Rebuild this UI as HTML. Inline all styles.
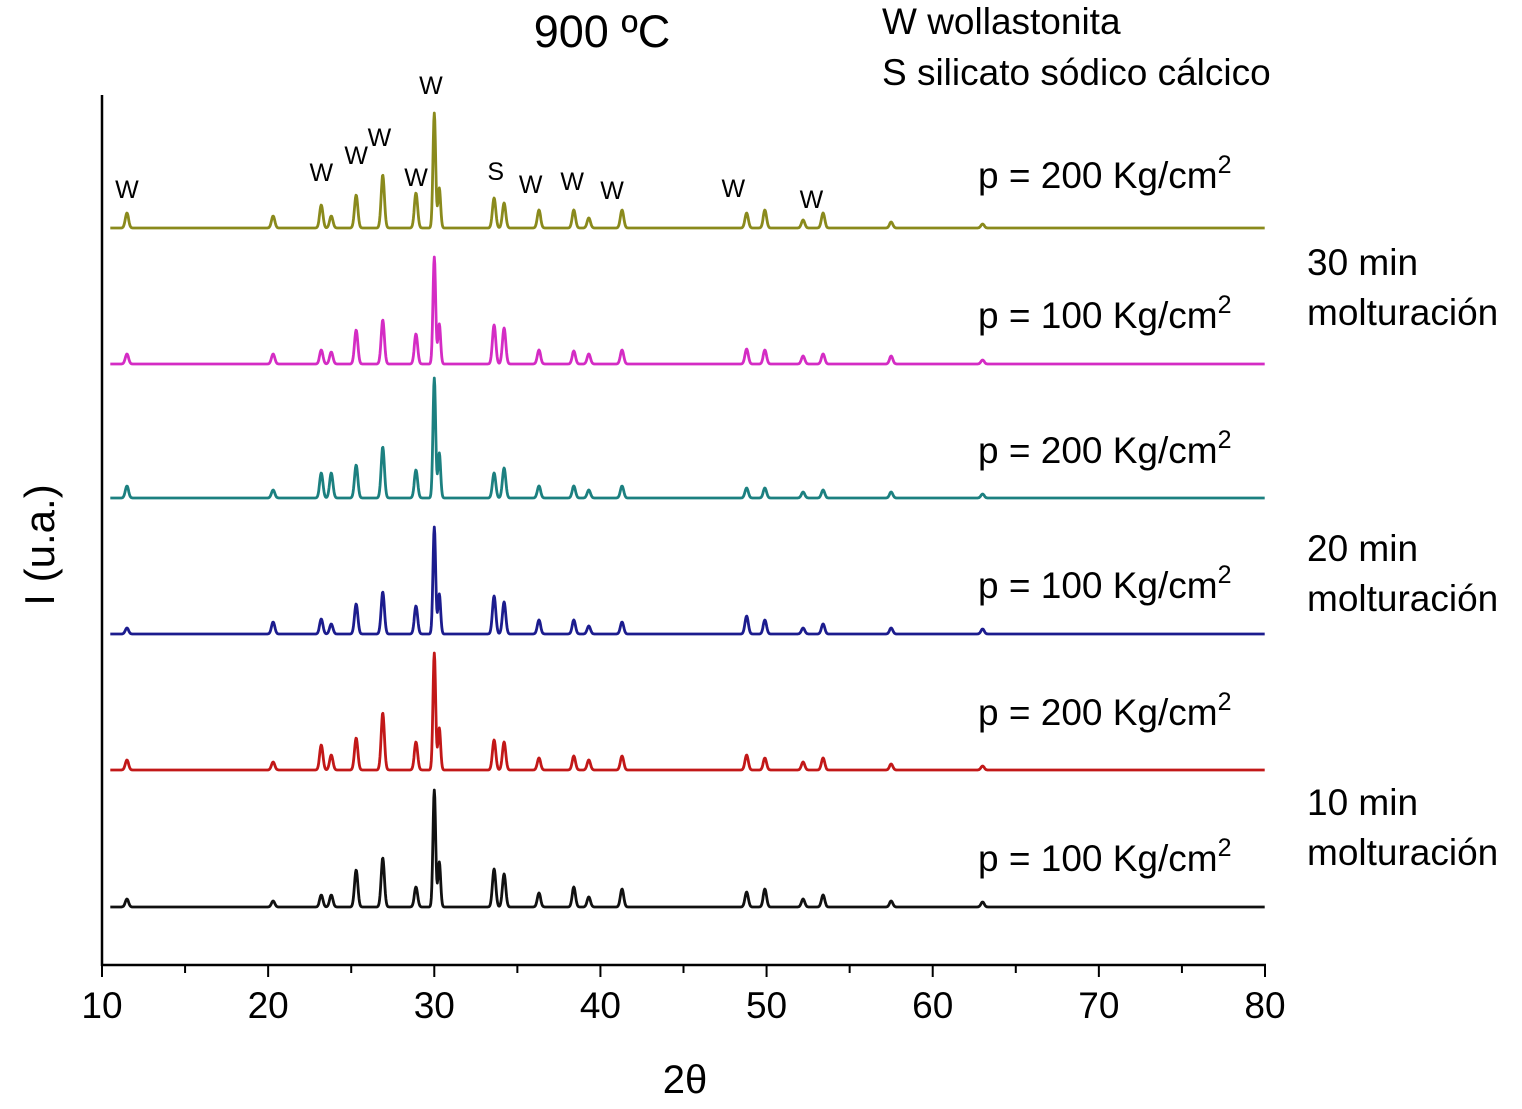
<!DOCTYPE html>
<html><head><meta charset="utf-8"><style>
body{margin:0;background:#fff;}
svg{display:block;font-family:"Liberation Sans",sans-serif;}
</style></head><body>
<svg id="chart" width="1522" height="1109" viewBox="0 0 1522 1109" xmlns="http://www.w3.org/2000/svg">
<text x="602" y="47" font-size="45" text-anchor="middle">900 ºC</text>
<text x="882" y="34" font-size="37">W wollastonita</text>
<text x="882" y="85" font-size="37">S silicato sódico cálcico</text>
<text transform="translate(54,545) rotate(-90)" font-size="42" text-anchor="middle">I (u.a.)</text>
<text x="685" y="1093" font-size="40" text-anchor="middle">2θ</text>
<g id="g"></g>
</svg>
<script>
const xMin=10, xMax=80;
const xTicks=[10,20,30,40,50,60,70,80];
const peakPos=[11.5,20.3,23.2,23.8,25.3,26.9,28.9,30.0,30.3,33.6,34.2,36.3,38.4,39.3,41.3,48.8,49.9,52.2,53.4,57.5,63.0];
const hYellow =[15,12,23,12,33,53,35,115,40,30,25,18,18,10,18,15,18,8,15,6,4];
const hMagenta=[10,10,14,12,34,44,30,107,40,39,36,14,13,10,14,15,14,8,10,8,4];
const hTeal   =[12,8,25,25,33,51,28,120,45,25,30,12,12,8,12,10,10,6,8,6,4];
const hBlue   =[6,12,15,10,30,42,28,107,40,38,32,14,14,8,12,18,14,6,10,6,5];
const hRed    =[10,8,25,15,32,57,28,117,42,30,28,12,14,10,14,15,12,8,12,6,4];
const hBlack  =[8,6,12,12,37,49,20,117,45,38,33,14,20,10,18,15,18,8,12,6,5];
const seriesH=[hYellow,hMagenta,hTeal,hBlue,hRed,hBlack];
const baselines=[228,364,498,634,770,907];
const colors=["#8a8a1c","#d42cc4","#1c8080","#1c1c8e","#c21818","#111111"];
const pLabels=["p = 200 Kg/cm","p = 100 Kg/cm","p = 200 Kg/cm","p = 100 Kg/cm","p = 200 Kg/cm","p = 100 Kg/cm"];
const pLabelY=[188,328,463,598,725,871];
const timeLabels=["30 min","20 min","10 min"];
const timeY=[275,561,815];
const wLabels=["W","W","W","W","W","W","S","W","W","W","W","W"];
const wPos=[11.5,23.2,25.3,26.7,28.9,29.8,33.7,35.8,38.3,40.7,48.0,52.7];
const wY=[198,181,164,146,186,94,180,193,190,199,197,208];
const NS="http://www.w3.org/2000/svg";
const g=document.getElementById('g');
const X=v=>102+(v-xMin)*(1265-102)/(xMax-xMin);
function mk(t,a){const e=document.createElementNS(NS,t);for(const k in a)e.setAttribute(k,a[k]);g.appendChild(e);return e;}
let e=mk('line',{x1:102,y1:95,x2:102,y2:966,stroke:'#000','stroke-width':2.5});


e=mk('line',{x1:101,y1:965,x2:1266,y2:965,stroke:'#000','stroke-width':2.5});


for(let v=xMin;v<=xMax;v+=5){
  const major=v%10===0;
  e=mk('line',{x1:X(v),y1:965,x2:X(v),y2:major?977:973,stroke:'#000','stroke-width':2});
  
  
}
xTicks.forEach(v=>{
  const t=mk('text',{x:X(v),y:1018,'font-size':37,'text-anchor':'middle'});t.textContent=v;
  
  
});
seriesH.forEach((hs,si)=>{
  let d='';
  for(let v=xMin+0.5;v<=xMax;v+=0.03){
    let y=0;
    peakPos.forEach((p,i)=>{const w=(p>=30&&p<=30.4)?0.08:0.1;y+=hs[i]*Math.exp(-((v-p)**2)/(2*w*w));});
    d+=(d?'L':'M')+X(v).toFixed(1)+','+(baselines[si]-y).toFixed(1);
  }
  const pth=mk('path',{d:d,fill:'none',stroke:colors[si],'stroke-width':2.8,'stroke-linejoin':'round'});
  
  
  const t=mk('text',{x:978,y:pLabelY[si],'font-size':37});
  t.textContent=pLabels[si];
  const s=document.createElementNS(NS,'tspan');s.setAttribute('dy','-15');s.setAttribute('font-size','25');s.textContent='2';t.appendChild(s);
  
  
});
timeLabels.forEach((l,i)=>{
  let t=mk('text',{x:1307,y:timeY[i],'font-size':37});t.textContent=l;
  
  
  t=mk('text',{x:1307,y:timeY[i]+50,'font-size':37});t.textContent='molturación';
  
  
});
wPos.forEach((p,i)=>{
  const t=mk('text',{x:X(p),y:wY[i],'font-size':25,'text-anchor':'middle'});
  t.textContent=wLabels[i];
  
  
});
</script>
</body></html>
